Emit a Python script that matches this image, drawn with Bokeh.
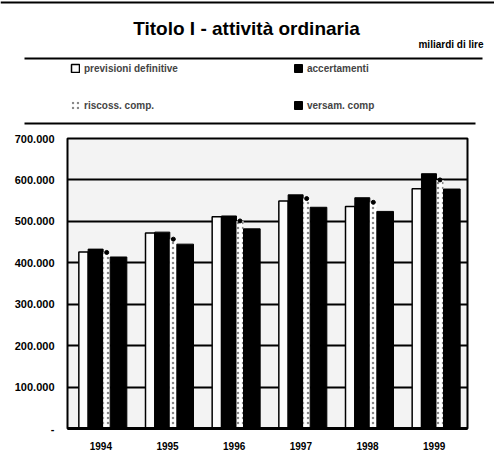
from bokeh.plotting import figure
from bokeh.layouts import column
from bokeh.models import (ColumnDataSource, FactorRange, FixedTicker, Legend, LegendItem,
                          Label, BoxAnnotation)
from bokeh.transform import dodge
from bokeh.embed import file_html
from bokeh.resources import INLINE

years = ["1994", "1995", "1996", "1997", "1998", "1999"]
previsioni = [426000, 472000, 511000, 549000, 536000, 579000]
accertamenti = [433000, 474000, 513000, 564000, 557000, 615000]
riscoss = [425000, 457000, 501000, 555000, 546000, 600000]
versam = [414000, 445000, 482000, 534000, 524000, 578000]
series_names = ["previsioni definitive", "accertamenti", "riscoss. comp.", "versam. comp"]
y_ticks = [0, 100000, 200000, 300000, 400000, 500000, 600000, 700000]
y_tick_labels = ["-", "100.000", "200.000", "300.000", "400.000", "500.000", "600.000", "700.000"]
title_text = "Titolo I - attività ordinaria"
unit_text = "miliardi di lire"

FONT = "Liberation Sans"
W, H_HEAD, H_MAIN = 494, 130, 333

# styles
S_PREV = dict(fill_color="#fbfbfb", line_color="black", line_width=1.5)
S_ACC = dict(fill_color="black", line_color="black")
S_RIS = dict(fill_color="white", line_color=None, hatch_pattern=".", hatch_color="#8a8a8a",
             hatch_scale=5, hatch_weight=1)
S_VER = dict(fill_color="black", line_color="black")

src = ColumnDataSource(dict(x=years, prev=previsioni, acc=accertamenti, ris=riscoss, ver=versam))
BARS = [("prev", -0.26, 0.14, S_PREV), ("acc", -0.078, 0.225, S_ACC),
        ("ris", 0.0875, 0.105, S_RIS), ("ver", 0.265, 0.25, S_VER)]


def add_bars(fig, visible=True):
    rs = []
    for col, off, wd, st in BARS:
        rs.append(fig.vbar(x=dodge("x", off, range=fig.x_range), top=col, width=wd,
                           source=src, visible=visible, **st))
    return rs


# ---------------- header (title, unit, legend) ----------------
hd = figure(width=W, height=H_HEAD, x_range=FactorRange(*years), y_range=(0, 700000),
            x_axis_type=None, y_axis_type=None, output_backend="svg", toolbar_location=None,
            min_border_left=0, min_border_right=0, min_border_top=0, min_border_bottom=0,
            frame_align=False)
hd.grid.grid_line_color = None
hd.outline_line_color = None
hd.background_fill_color = "white"
hd.border_fill_color = "white"

proxies = add_bars(hd, visible=False)  # legend swatches only


def rule(left, right, bottom, top):
    return BoxAnnotation(left=left, right=right, bottom=bottom, top=top,
                         left_units="screen", right_units="screen",
                         bottom_units="screen", top_units="screen",
                         fill_color="black", fill_alpha=1, line_color=None)


hd.add_layout(rule(0, 494, 127, 129))
hd.add_layout(Label(x=246, y=102, x_units="screen", y_units="screen", text=title_text,
                    text_align="center", text_baseline="middle",
                    text_font=FONT, text_font_style="bold", text_font_size="19px",
                    text_color="black"))
hd.add_layout(Label(x=483, y=86, x_units="screen", y_units="screen", text=unit_text,
                    text_align="right", text_baseline="middle",
                    text_font=FONT, text_font_style="bold", text_font_size="10px",
                    text_color="black"))
hd.add_layout(rule(24, 482, 71, 73))
hd.add_layout(rule(24, 475, 6, 8))

legend = Legend(items=[LegendItem(label=n, renderers=[r]) for n, r in zip(series_names, proxies)],
                orientation="horizontal", ncols=2, location=(70, 18),
                padding=0, margin=0, spacing=23, glyph_width=10, glyph_height=10,
                label_height=14, label_width=186, label_standoff=4,
                label_text_font=FONT, label_text_font_style="bold", label_text_font_size="10px",
                border_line_color=None, background_fill_alpha=0, inactive_fill_alpha=0)
hd.add_layout(legend, "center")

# ---------------- main chart ----------------
p = figure(x_range=FactorRange(*years), y_range=(0, 700000), width=W, height=H_MAIN,
           output_backend="svg", toolbar_location=None, frame_align=False,
           min_border_left=67, min_border_right=27, min_border_top=8, min_border_bottom=35)
p.background_fill_color = "#f3f3f3"
p.border_fill_color = "white"
p.outline_line_color = "black"
p.outline_line_width = 2

add_bars(p)
p.scatter(x=dodge("x", 0.0875, range=p.x_range), y="ris", source=src, marker="circle",
          size=4, fill_color="black", line_color="black")

p.xgrid.grid_line_color = None
p.ygrid.grid_line_color = "black"
p.ygrid.grid_line_width = 2
p.ygrid.level = "underlay"

p.yaxis.ticker = FixedTicker(ticks=y_ticks)
p.yaxis.major_label_overrides = {t: l for t, l in zip(y_ticks, y_tick_labels)}
p.yaxis.axis_line_color = None
p.yaxis.major_tick_line_color = None
p.yaxis.minor_tick_line_color = None
p.yaxis.major_label_standoff = 7
p.yaxis.major_label_text_font = FONT
p.yaxis.major_label_text_font_style = "bold"
p.yaxis.major_label_text_font_size = "11px"
p.yaxis.major_label_text_color = "black"

p.xaxis.axis_line_color = "black"
p.xaxis.axis_line_width = 3
p.xaxis.major_tick_line_color = None
p.xaxis.minor_tick_line_color = None
p.xaxis.major_label_standoff = 7
p.xaxis.major_label_text_font = FONT
p.xaxis.major_label_text_font_style = "bold"
p.xaxis.major_label_text_font_size = "10px"
p.xaxis.major_label_text_color = "black"

layout = column(hd, p, spacing=0)
open("out.html", "w").write(file_html(layout, INLINE))
